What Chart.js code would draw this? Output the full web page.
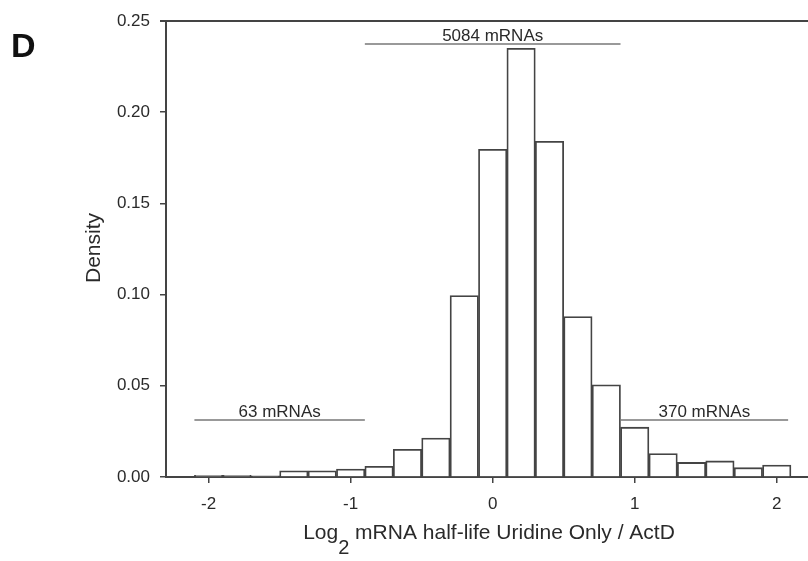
<!DOCTYPE html>
<html>
<head>
<meta charset="utf-8">
<script src="https://cdn.jsdelivr.net/npm/chart.js@4.4.1/dist/chart.umd.min.js"></script>
<style>
  html, body { margin: 0; padding: 0; background: #fff; }
  #wrap { width: 808px; height: 561px; position: relative; }
</style>
</head>
<body>
<div id="wrap"><canvas id="hist"></canvas></div>
<script>
// histogram bins (centre of each 0.2-wide bin) and their density
const binCenters = [-2.0, -1.8, -1.6, -1.4, -1.2, -1.0, -0.8, -0.6, -0.4, -0.2, 0.0,
                    0.2, 0.4, 0.6, 0.8, 1.0, 1.2, 1.4, 1.6, 1.8, 2.0]
const density = [0.0009, 0.0009, 0.0006, 0.0034, 0.0034, 0.0044, 0.0059, 0.0152, 0.0214, 0.0995, 0.1797,
                 0.235, 0.184, 0.088, 0.0505, 0.0273, 0.0128, 0.0080, 0.0088, 0.0051, 0.0066]

const xTicks = [-2, -1, 0, 1, 2]
const yTicks = [0, 0.05, 0.10, 0.15, 0.20, 0.25]

// bracket annotations over the three ranges
const annoLabels = ['63 mRNAs', '5084 mRNAs', '370 mRNAs']
const annoFrom = [-2.1, -0.9, 0.9]
const annoTo = [-0.9, 0.9, 2.08]
const annoY = [0.0313, 0.2374, 0.0313]

const ink = '#444'
const textInk = '#2a2a2a'
const fontFam = '"Liberation Sans", Arial, sans-serif'

// top frame line, bracket annotations, axis titles and panel letter
const decorations = {
  id: 'decorations',
  afterDraw(chart) {
    const {ctx, chartArea, scales} = chart
    const x = scales.x, y = scales.y
    ctx.save()

    ctx.strokeStyle = ink
    ctx.lineWidth = 2
    ctx.beginPath()
    ctx.moveTo(chartArea.left - 6, chartArea.top)
    ctx.lineTo(chart.width, chartArea.top)
    ctx.stroke()

    ctx.font = '17px ' + fontFam
    ctx.textAlign = 'center'
    ctx.textBaseline = 'alphabetic'
    annoLabels.forEach((label, i) => {
      const x0 = x.getPixelForValue(annoFrom[i])
      const x1 = x.getPixelForValue(annoTo[i])
      const yy = y.getPixelForValue(annoY[i])
      ctx.strokeStyle = '#777'
      ctx.lineWidth = 1.5
      ctx.beginPath()
      ctx.moveTo(x0, yy)
      ctx.lineTo(x1, yy)
      ctx.stroke()
      ctx.fillStyle = textInk
      ctx.fillText(label, (x0 + x1) / 2, yy - 3)
    })

    // y title
    ctx.fillStyle = textInk
    ctx.font = '21px ' + fontFam
    ctx.save()
    ctx.translate(100, 248)
    ctx.rotate(-Math.PI / 2)
    ctx.textAlign = 'center'
    ctx.fillText('Density', 0, 0)
    ctx.restore()

    // x title with subscript
    const part1 = 'Log'
    const sub = '2'
    const part2 = ' mRNA half-life Uridine Only / ActD'
    const mainFont = '21px ' + fontFam
    const subFont = '20px ' + fontFam
    ctx.font = mainFont
    const w1 = ctx.measureText(part1).width
    const w3 = ctx.measureText(part2).width
    ctx.font = subFont
    const w2 = ctx.measureText(sub).width
    let tx = 489 - (w1 + w2 + w3) / 2
    const base = 539
    ctx.textAlign = 'left'
    ctx.font = mainFont
    ctx.fillText(part1, tx, base)
    tx += w1
    ctx.font = subFont
    ctx.fillText(sub, tx, base + 15)
    tx += w2
    ctx.font = mainFont
    ctx.fillText(part2, tx, base)

    // panel letter
    ctx.font = 'bold 34px ' + fontFam
    ctx.fillStyle = '#111'
    ctx.textAlign = 'left'
    ctx.fillText('D', 11, 57)

    ctx.restore()
  }
}

const ctx = document.getElementById('hist')
new Chart(ctx, {
  type: 'bar',
  data: {
    datasets: [{
      data: binCenters.map((c, i) => ({x: c, y: density[i]})),
      backgroundColor: '#fff',
      borderColor: ink,
      borderWidth: 1.8,
      barPercentage: 1,
      categoryPercentage: 1
    }]
  },
  options: {
    responsive: true,
    maintainAspectRatio: false,
    animation: false,
    layout: {
      padding: {left: 0, top: 21, right: 0, bottom: 0}
    },
    plugins: {
      legend: { display: false },
      tooltip: { enabled: false }
    },
    scales: {
      x: {
        type: 'linear',
        offset: false,
        min: -2.3,
        max: 2.22,
        afterBuildTicks: scale => { scale.ticks = xTicks.map(v => ({value: v})) },
        afterFit: scale => { scale.height = 84 },
        grid: { offset: false, drawOnChartArea: false, drawTicks: true, tickLength: 6, color: ink, lineWidth: 1.5 },
        border: { display: true, color: ink, width: 2 },
        ticks: {
          color: textInk,
          font: { family: fontFam, size: 17 },
          padding: 11,
          maxRotation: 0,
          callback: v => String(v)
        }
      },
      y: {
        min: 0,
        max: 0.25,
        afterBuildTicks: scale => { scale.ticks = yTicks.map(v => ({value: v})) },
        afterFit: scale => { scale.width = 166 },
        grid: { drawOnChartArea: false, drawTicks: true, tickLength: 6, color: ink, lineWidth: 1.5 },
        border: { display: true, color: ink, width: 2 },
        ticks: {
          color: textInk,
          font: { family: fontFam, size: 17 },
          padding: 10,
          callback: v => v.toFixed(2)
        }
      }
    }
  },
  plugins: [decorations]
})
</script>
</body>
</html>
